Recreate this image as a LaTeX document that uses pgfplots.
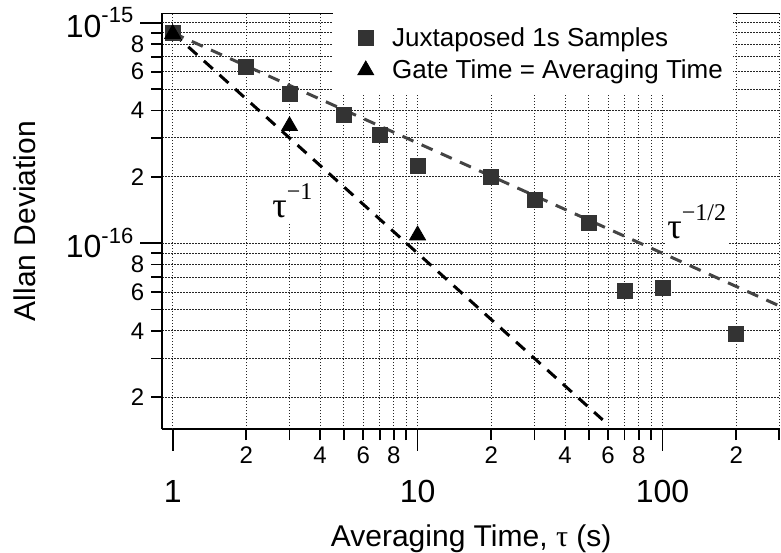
\documentclass[border=0pt]{standalone}
\usepackage{pgfplots}
\pgfplotsset{compat=1.18}
\usepackage{fontspec}
\setmainfont{Liberation Sans}
\newfontfamily\serif{Liberation Serif}
\definecolor{sq}{HTML}{333333}
\definecolor{fitgray}{HTML}{444444}
\newcommand{\fs}[1]{\fontsize{#1}{#1}\selectfont}
\newcommand{\dec}[1]{10\raisebox{0.85ex}{\fs{11}#1}}

\begin{document}
\begin{tikzpicture}
\begin{axis}[
  scale only axis, width=308.85pt, height=208pt,
  xmode=log, ymode=log,
  xmin=0.907, xmax=302, ymin=1.435e-17, ymax=1.106e-15,
  axis lines*=left, axis line style={line width=1.2pt},
  tick align=outside, tick style={line width=0.9pt, black},
  major tick length=5.5pt,
  xtick={2,3,4,5,6,7,8,9,20,30,40,50,60,70,80,90,200,300},
  xticklabels={2,,4,,6,,8,,2,,4,,6,,8,,2,},
  ytick={2e-17,3e-17,4e-17,5e-17,6e-17,7e-17,8e-17,9e-17,2e-16,3e-16,4e-16,5e-16,6e-16,7e-16,8e-16,9e-16},
  yticklabels={2,,4,,6,,8,,2,,4,,6,,8,},
  minor xtick={}, minor ytick={},
  ticklabel style={font=\fs{12}},
  extra x ticks={1,10,100},
  extra x tick labels={1,10,100},
  extra x tick style={major tick length=11pt, grid=major,
    tick label style={font=\fs{16}, yshift=-11pt}},
  extra y ticks={1e-16,1e-15},
  extra y tick labels={{\dec{-16}},{\dec{-15}}},
  extra y tick style={major tick length=11pt, grid=major,
    tick label style={font=\fs{16}}},
  grid=major,
  major grid style={line width=0.5pt, black!85, dash pattern=on 0.7pt off 0.8pt},
  xlabel={Averaging Time, {\serif τ} (s)},
  ylabel={Allan Deviation},
  label style={font=\fs{15}},
  xlabel style={yshift=1.5pt},
  ylabel style={yshift=2.5pt},
  legend style={at={(rel axis cs:0.2763,1)}, anchor=north west, draw=none,
    fill=white, font=\fs{13}, row sep=3pt, inner xsep=4pt, inner ysep=6pt,
    nodes={inner sep=1pt},
    /tikz/every even column/.append style={column sep=15.5pt}},
  legend image code/.code={\path (-12pt,0pt) (12pt,0pt);
    \draw[#1] plot coordinates {(0pt,0pt)};},
  legend cell align=left,
]
\coordinate (bl) at (rel axis cs:0,0);
\draw[line width=1.2pt] (rel axis cs:0,1) -- (rel axis cs:1,1);

\addplot[only marks, mark=square*, mark size=3.75pt, draw=sq, fill=sq] coordinates {
  (1,8.95e-16) (2,6.3e-16) (3,4.73e-16) (5,3.82e-16) (7,3.1e-16) (10,2.25e-16)
  (20,2.0e-16) (30,1.57e-16) (50,1.23e-16) (70,6.06e-17) (100,6.24e-17) (200,3.86e-17)};
\addlegendentry{Juxtaposed 1s Samples}
\addplot[only marks, mark=triangle*, mark size=4.6pt, draw=black, fill=black] coordinates {
  (1,8.9e-16) (3,3.4e-16) (10,1.086e-16)};
\addlegendentry{Gate Time = Averaging Time}

\node[anchor=base west, fill=white, inner xsep=1pt, inner ysep=3pt, font=\serif\fs{18}]
  at (rel axis cs:0.1744,0.5096) {τ\raisebox{9pt}{\fs{12}−1}};
\node[anchor=base west, fill=white, inner xsep=1pt, inner ysep=3pt, font=\serif\fs{18}]
  at (rel axis cs:0.8138,0.4591) {τ\raisebox{9pt}{\fs{12}−1/2}};

\addplot[forget plot, fitgray, line width=1.5pt, dash pattern=on 6pt off 4.5pt] coordinates {
  (1,9e-16) (300,5.196e-17)};
\addplot[forget plot, black, line width=1.5pt, dash pattern=on 6pt off 4.5pt] coordinates {
  (1,9e-16) (57,1.58e-17)};
\end{axis}
\pgfresetboundingbox
\path (bl) ++(-81.15pt,-61.5pt) rectangle ++(390.5pt,276pt);
\end{tikzpicture}
\end{document}
